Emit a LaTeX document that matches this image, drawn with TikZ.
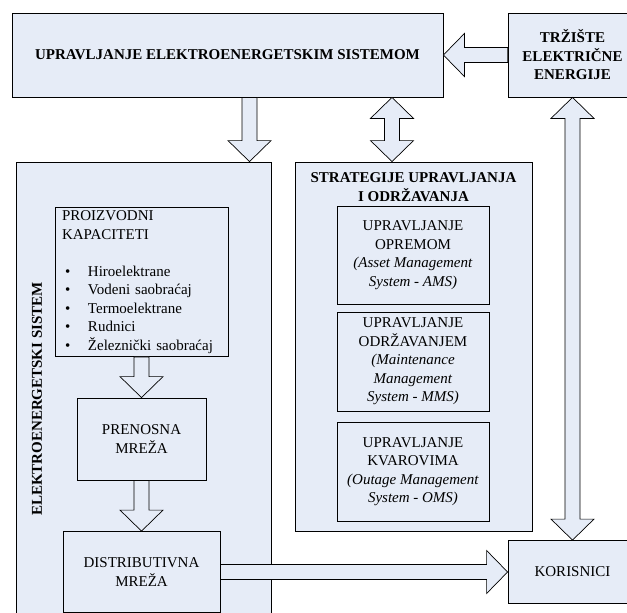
\documentclass[tikz,border=0pt]{standalone}
\usepackage{fontspec}
\setmainfont{Liberation Serif}
\usepackage{tikz}
\usetikzlibrary{calc}
\definecolor{boks}{HTML}{E6ECF7}
\tikzset{
  kutija/.style={draw=black, fill=boks, line width=0.8pt, inner sep=0pt, align=center},
  strela/.style={draw=black, fill=boks, line width=0.7pt, line join=miter},
}
\newcommand{\strelica}[2]{%
  \draw[strela] let \p1=(#1), \p2=(#2), \n1={atan2(\y2-\y1,\x2-\x1)}, \n2={veclen(\x2-\x1,\y2-\y1)} in
    [shift={(\p1)}, rotate=\n1]
    (0pt,-7.5pt) -- (\n2*1pt-21pt,-7.5pt) -- (\n2*1pt-21pt,-21.5pt) -- (\n2*1pt,0pt)
    -- (\n2*1pt-21pt,21.5pt) -- (\n2*1pt-21pt,7.5pt) -- (0pt,7.5pt) -- cycle;}
\newcommand{\dvostrelica}[2]{%
  \draw[strela] let \p1=(#1), \p2=(#2), \n1={atan2(\y2-\y1,\x2-\x1)}, \n2={veclen(\x2-\x1,\y2-\y1)} in
    [shift={(\p1)}, rotate=\n1]
    (0pt,0pt) -- (21pt,-21.5pt) -- (21pt,-7.5pt) -- (\n2*1pt-21pt,-7.5pt) -- (\n2*1pt-21pt,-21.5pt)
    -- (\n2*1pt,0pt) -- (\n2*1pt-21pt,21.5pt) -- (\n2*1pt-21pt,7.5pt) -- (21pt,7.5pt) -- (21pt,21.5pt) -- cycle;}

\begin{document}
\begin{tikzpicture}[x=1pt,y=-1pt,font=\fontsize{15}{18.5}\selectfont]
\useasboundingbox (0,0) rectangle (627,613);

\node[kutija, minimum width=431pt, minimum height=84pt] (upr) at (227.5,55) {\textbf{UPRAVLJANJE ELEKTROENERGETSKIM SISTEMOM}};
\node[kutija, minimum width=129pt, minimum height=84pt] (trziste) at (572.5,55) {\textbf{TRŽIŠTE}\\\textbf{ELEKTRIČNE}\\\textbf{ENERGIJE}};

\node[kutija, minimum width=255pt, minimum height=468pt] (es) at (143.5,396) {};
\node[rotate=90] (eslabel) at (37,399) {\textbf{ELEKTROENERGETSKI SISTEM}};
\node[kutija, minimum width=173pt, minimum height=149pt, text width=159pt, align=left] (proiz) at (141.5,282)
  {PROIZVODNI\\KAPACITETI\\[18.5pt]
   \hspace*{3pt}\makebox[23pt][l]{\textbullet}Hiroelektrane\\
   \hspace*{3pt}\makebox[23pt][l]{\textbullet}Vodeni saobraćaj\\
   \hspace*{3pt}\makebox[23pt][l]{\textbullet}Termoelektrane\\
   \hspace*{3pt}\makebox[23pt][l]{\textbullet}Rudnici\\
   \hspace*{3pt}\makebox[23pt][l]{\textbullet}Železnički saobraćaj};
\node[kutija, minimum width=129pt, minimum height=82pt] (pren) at (141.5,439) {PRENOSNA\\MREŽA};
\node[kutija, minimum width=157pt, minimum height=81pt] (dist) at (141.5,572) {DISTRIBUTIVNA\\MREŽA};

\node[kutija, minimum width=237pt, minimum height=369pt] (strat) at (413.5,346.5) {};
\node[align=center] (stratlabel) at (413.5,187) {\textbf{STRATEGIJE UPRAVLJANJA}\\\textbf{I ODRŽAVANJA}};
\node[kutija, minimum width=152pt, minimum height=98pt] (ams) at (413,255) {UPRAVLJANJE\\OPREMOM\\\textit{(Asset Management}\\\textit{System - AMS)}};
\node[kutija, minimum width=152pt, minimum height=99pt] (mms) at (413,361.5) {UPRAVLJANJE\\ODRŽAVANJEM\\\textit{(Maintenance}\\\textit{Management}\\\textit{System - MMS)}};
\node[kutija, minimum width=152pt, minimum height=99pt] (oms) at (413,471.5) {UPRAVLJANJE\\KVAROVIMA\\\textit{(Outage Management}\\\textit{System - OMS)}};

\node[kutija, minimum width=129pt, minimum height=63pt] (kor) at (572.5,572) {KORISNICI};

\strelica{trziste.west}{upr.east}
\strelica{$(upr.south)+(22,0)$}{$(es.north)+(106,0)$}
\dvostrelica{$(upr.south)+(164.5,0)$}{$(strat.north)+(-21.5,0)$}
\dvostrelica{trziste.south}{kor.north}
\strelica{proiz.south}{pren.north}
\strelica{pren.south}{dist.north}
\strelica{dist.east}{kor.west}
\end{tikzpicture}
\end{document}
